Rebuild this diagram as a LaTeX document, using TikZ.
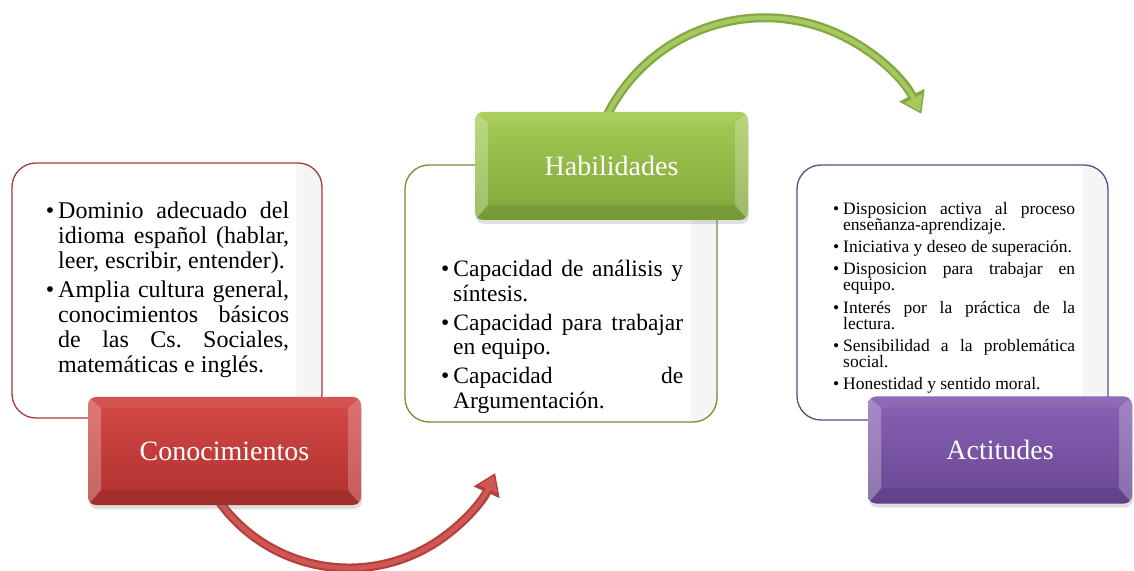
\documentclass[tikz,border=0pt]{standalone}
\usepackage{fontspec}
\setmainfont{Liberation Serif}
\usetikzlibrary{arrows.meta,shadows}
\frenchspacing
\definecolor{kborder}{HTML}{A83A3A}
\definecolor{hborder}{HTML}{6F8F36}
\definecolor{aborder}{HTML}{604A7B}
\definecolor{redT}{HTML}{D44A47}
\definecolor{redB}{HTML}{B0302E}
\definecolor{grnT}{HTML}{A5CC55}
\definecolor{grnB}{HTML}{80A63A}
\definecolor{purT}{HTML}{8862B4}
\definecolor{purB}{HTML}{694694}
\definecolor{redD}{HTML}{B5403D}
\definecolor{redL}{HTML}{CF5754}
\definecolor{grnD}{HTML}{84A643}
\definecolor{grnL}{HTML}{A3C95F}
\newenvironment{blist}[2]{\begin{list}{\textbullet}{\setlength{\leftmargin}{#1}\setlength{\labelsep}{4pt}\setlength{\labelwidth}{\dimexpr#1-4pt\relax}\setlength{\itemsep}{#2}\setlength{\parsep}{0pt}\setlength{\topsep}{0pt}\setlength{\partopsep}{0pt}\setlength{\itemindent}{0pt}\setlength{\listparindent}{0pt}}}{\end{list}}
\newcommand{\bevelpp}{%
 \fill[sharp corners,white,opacity=0.06] (path picture bounding box.north west) -- (path picture bounding box.north east) -- ++(-13,-11) -- ([shift={(13,-11)}]path picture bounding box.north west) -- cycle;
 \fill[sharp corners,black,opacity=0.08] (path picture bounding box.south west) -- (path picture bounding box.south east) -- ++(-13,15) -- ([shift={(13,15)}]path picture bounding box.south west) -- cycle;
 \fill[sharp corners,white,opacity=0.26] (path picture bounding box.north west) -- ++(13,-11) -- ([shift={(13,15)}]path picture bounding box.south west) -- (path picture bounding box.south west) -- cycle;
 \fill[sharp corners,white,opacity=0.22] (path picture bounding box.north east) -- ++(-13,-11) -- ([shift={(-13,15)}]path picture bounding box.south east) -- (path picture bounding box.south east) -- cycle;
}
\tikzset{
 wbox/.style={draw=#1, line width=1.3pt, fill=white, rounded corners=24pt, inner sep=0pt,
   path picture={\shade[sharp corners,left color=white,right color=black!4] ([xshift=-26pt]path picture bounding box.north east) rectangle (path picture bounding box.south east);}},
 tbox/.style={rounded corners=8pt, inner sep=0pt, text=white, font=\fontsize{28}{30}\selectfont,
   drop shadow={opacity=0.25, shadow xshift=1pt, shadow yshift=-4pt}, path picture={\bevelpp}},
 txt/.style={anchor=north west, inner sep=0pt, align=justify},
 arrouter/.style={draw=#1, line width=9pt, -{Triangle[width=27pt,length=21pt]}},
 arrinner/.style={draw=#1, line width=4.5pt, shorten >=2.5pt, -{Triangle[width=19pt,length=15pt]}},
}
\begin{document}
\begin{tikzpicture}[x=1pt,y=1pt]
\useasboundingbox (0,0) rectangle (1134,570);
% white panels
\node[wbox=kborder, minimum width=310pt, minimum height=255pt] (kbox) at (167,279.5) {};
\node[wbox=hborder, minimum width=312pt, minimum height=257pt] (hbox) at (561,276.5) {};
\node[wbox=aborder, minimum width=311pt, minimum height=255pt] (abox) at (952.5,277.5) {};
% texts
\node[txt, text width=244pt, font={\fontsize{24}{25}\selectfont\lineskiplimit=-30pt}] (ktext) at (45,377) {%
\begin{blist}{13pt}{4pt}
\item \rule{0pt}{18pt}Dominio adecuado del\linebreak idioma español (hablar,\linebreak leer, escribir, entender).
\item Amplia cultura general,\linebreak conocimientos básicos\linebreak de las Cs. Sociales,\linebreak matemáticas e inglés.
\end{blist}};
\node[txt, text width=242pt, font={\fontsize{23.5}{24.5}\selectfont\lineskiplimit=-30pt}] (htext) at (441,318) {%
\begin{blist}{12pt}{4.5pt}
\item \rule{0pt}{18pt}Capacidad de análisis y\linebreak síntesis.
\item Capacidad para trabajar\linebreak en equipo.
\item Capacidad de\linebreak Argumentación.
\end{blist}};
\node[txt, text width=244pt, font={\fontsize{17.5}{16}\selectfont\lineskiplimit=-30pt}] (atext) at (831,372) {%
\begin{blist}{12pt}{6.3pt}
\item \rule{0pt}{14pt}Disposicion activa al proceso\linebreak enseñanza-aprendizaje.
\item Iniciativa y deseo de superación.
\item Disposicion para trabajar en\linebreak equipo.
\item Interés por la práctica de la\linebreak lectura.
\item Sensibilidad a la problemática\linebreak social.
\item Honestidad y sentido moral.
\end{blist}};
% curved arrows
\coordinate (rc) at (349,162);
\coordinate (rs) at ([shift={(212:160)}]rc);
\draw[arrouter=redD] (rs) arc[start angle=212, end angle=336, radius=160];
\draw[arrinner=redL] (rs) arc[start angle=212, end angle=336, radius=160];
\coordinate (gc) at (764.6,376.2);
\coordinate (gs) at ([shift={(157:176)}]gc);
\draw[arrouter=grnD] (gs) arc[start angle=157, end angle=27, radius=176];
\draw[arrinner=grnL] (gs) arc[start angle=157, end angle=27, radius=176];
% title boxes
\node[tbox, top color=redT, bottom color=redB, minimum width=273pt, minimum height=108pt] (conoc) at (224.5,119) {Conocimientos};
\node[tbox, top color=grnT, bottom color=grnB, minimum width=273pt, minimum height=108pt] (habil) at (611.5,404) {Habilidades};
\node[tbox, top color=purT, bottom color=purB, minimum width=264pt, minimum height=107pt] (actit) at (1000,120) {Actitudes};
\end{tikzpicture}
\end{document}
